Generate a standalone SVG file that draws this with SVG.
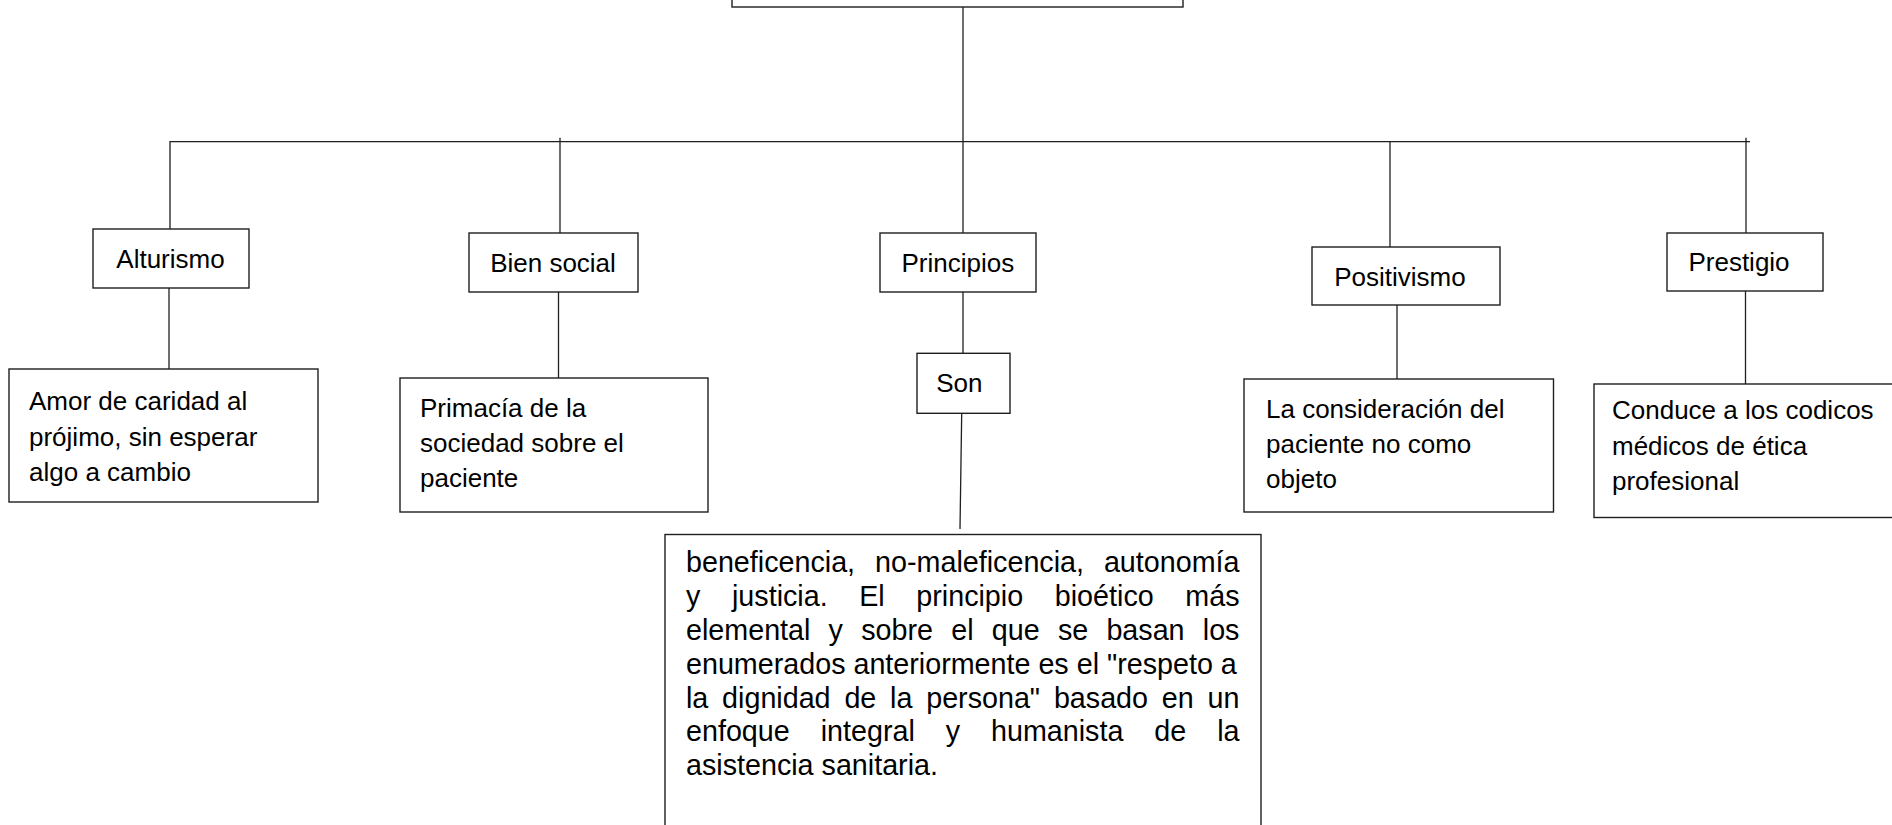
<svg xmlns="http://www.w3.org/2000/svg" width="1892" height="825" viewBox="0 0 1892 825">
  <style>
    .box { fill: #ffffff; stroke: #1f1f1f; stroke-width: 1.4; }
    .ln { fill: none; stroke: #1f1f1f; stroke-width: 1.3; }
    .lbl { font-family: "Liberation Sans", Arial, sans-serif; font-size: 26px; fill: #000; }
    .mid { text-anchor: middle; }
    .par { font-family: "Liberation Sans", Arial, sans-serif; font-size: 28.7px; fill: #000; }
  </style>
  <rect x="0" y="0" width="1892" height="825" fill="#ffffff"/>

  <g id="connectors">
    <line class="ln" x1="963" y1="7" x2="963" y2="141.7"/>
    <polyline class="ln" points="170,229 170,141.7 1750,141.7"/>
    <line class="ln" x1="560" y1="137.7" x2="560" y2="233"/>
    <line class="ln" x1="963" y1="141.7" x2="963" y2="233"/>
    <line class="ln" x1="1390" y1="141.7" x2="1390" y2="247"/>
    <line class="ln" x1="1746" y1="137.7" x2="1746" y2="233"/>
    <line class="ln" x1="169" y1="288" x2="169" y2="369"/>
    <line class="ln" x1="558.5" y1="292" x2="558.5" y2="378"/>
    <line class="ln" x1="963" y1="292" x2="963" y2="353"/>
    <line class="ln" x1="961.7" y1="413.3" x2="960" y2="529"/>
    <line class="ln" x1="1397" y1="305" x2="1397" y2="379"/>
    <line class="ln" x1="1745.5" y1="291" x2="1745.5" y2="384"/>
  </g>

  <g id="node-top">
    <rect class="box" x="732" y="-20" width="451" height="27"/>
  </g>

  <g id="node-alturismo">
    <rect class="box" x="93" y="229" width="156" height="59"/>
    <text class="lbl mid" x="170.5" y="268">Alturismo</text>
  </g>
  <g id="node-bien-social">
    <rect class="box" x="469" y="233" width="169" height="59"/>
    <text class="lbl mid" x="553" y="271.7">Bien social</text>
  </g>
  <g id="node-principios">
    <rect class="box" x="880" y="233" width="156" height="59"/>
    <text class="lbl mid" x="957.8" y="271.7">Principios</text>
  </g>
  <g id="node-positivismo">
    <rect class="box" x="1312" y="247" width="188" height="58"/>
    <text class="lbl mid" x="1400" y="286">Positivismo</text>
  </g>
  <g id="node-prestigio">
    <rect class="box" x="1667" y="233" width="156" height="58"/>
    <text class="lbl mid" x="1739" y="270.7">Prestigio</text>
  </g>

  <g id="node-amor">
    <rect class="box" x="9" y="369" width="309" height="133"/>
    <text class="lbl" x="29" y="410">Amor de caridad al</text>
    <text class="lbl" x="29" y="445.5">prójimo, sin esperar</text>
    <text class="lbl" x="29" y="481">algo a cambio</text>
  </g>
  <g id="node-primacia">
    <rect class="box" x="400" y="378" width="308" height="134"/>
    <text class="lbl" x="420" y="417">Primacía de la</text>
    <text class="lbl" x="420" y="452">sociedad sobre el</text>
    <text class="lbl" x="420" y="487">paciente</text>
  </g>
  <g id="node-son">
    <rect class="box" x="917" y="353.3" width="93" height="60"/>
    <text class="lbl mid" x="959.3" y="392.3">Son</text>
  </g>
  <g id="node-consideracion">
    <rect class="box" x="1244" y="379" width="309.5" height="133"/>
    <text class="lbl" x="1266" y="417.5">La consideración del</text>
    <text class="lbl" x="1266" y="453">paciente no como</text>
    <text class="lbl" x="1266" y="488">objeto</text>
  </g>
  <g id="node-conduce">
    <rect class="box" x="1594" y="384" width="310" height="133.5"/>
    <text class="lbl" x="1612" y="419">Conduce a los codicos</text>
    <text class="lbl" x="1612" y="454.5">médicos de ética</text>
    <text class="lbl" x="1612" y="490">profesional</text>
  </g>

  <g id="node-beneficencia">
    <rect class="box" x="665" y="534.5" width="596" height="300"/>
    <text class="par" y="572.3"><tspan x="686">beneficencia,</tspan><tspan x="875.1">no-maleficencia,</tspan><tspan x="1103.9">autonomía</tspan></text>
    <text class="par" y="606.1"><tspan x="686">y</tspan><tspan x="732">justicia.</tspan><tspan x="859.2">El</tspan><tspan x="916.3">principio</tspan><tspan x="1054.8">bioético</tspan><tspan x="1185.3">más</tspan></text>
    <text class="par" y="639.9"><tspan x="686">elemental</tspan><tspan x="828.6">y</tspan><tspan x="861.2">sobre</tspan><tspan x="951.2">el</tspan><tspan x="991.8">que</tspan><tspan x="1057.9">se</tspan><tspan x="1106.4">basan</tspan><tspan x="1202.8">los</tspan></text>
    <text class="par" x="686" y="673.7">enumerados anteriormente es el "respeto a</text>
    <text class="par" y="707.5"><tspan x="686">la</tspan><tspan x="722.1">dignidad</tspan><tspan x="844.4">de</tspan><tspan x="890.1">la</tspan><tspan x="926.2">persona"</tspan><tspan x="1053.9">basado</tspan><tspan x="1161.8">en</tspan><tspan x="1207.5">un</tspan></text>
    <text class="par" y="741.3"><tspan x="686">enfoque</tspan><tspan x="820.7">integral</tspan><tspan x="945.7">y</tspan><tspan x="991">humanista</tspan><tspan x="1154.3">de</tspan><tspan x="1217.2">la</tspan></text>
    <text class="par" x="686" y="775.1">asistencia sanitaria.</text>
  </g>
</svg>
